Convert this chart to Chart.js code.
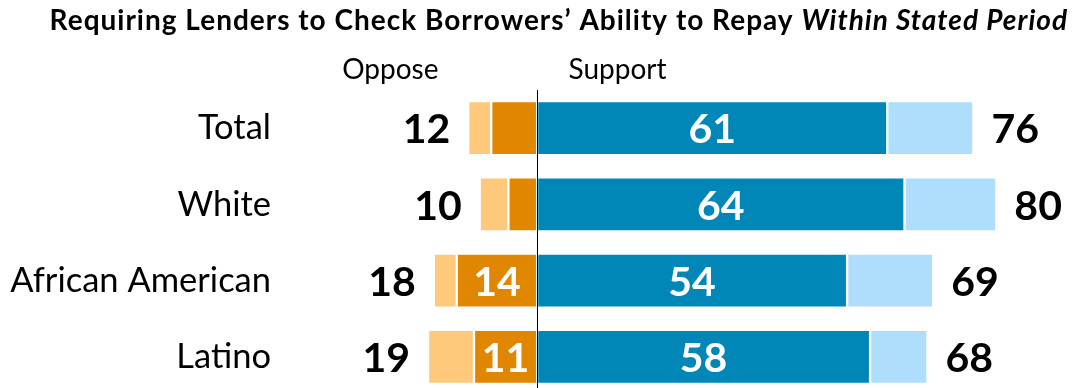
<!DOCTYPE html>
<html>
<head>
<meta charset="utf-8">
<script src="https://cdn.jsdelivr.net/npm/chart.js@4"></script>
<style>
  html, body { margin: 0; padding: 0; background: #fff; }
  #wrap { width: 1074px; height: 388px; overflow: hidden; }
</style>
</head>
<body>
<div id="wrap"><canvas id="chart_ability" width="1074" height="395"></canvas></div>
<script>
const groups = ["Total", "White", "African American", "Latino"];
const supportStrong = [61, 64, 54, 58];
const supportTotal = [76, 80, 69, 68];
const opposeStrong = [8, 5, 14, 11];
const opposeTotal = [12, 10, 18, 19];

const FONT = "Lato";

// the lighter part of each side is what remains of the total
const supportRest = supportTotal.map((t, i) => t - supportStrong[i]);
const opposeRest = opposeTotal.map((t, i) => t - opposeStrong[i]);

const barStyle = {
    borderColor: "#ffffff",
    borderWidth: 1.5,
    borderSkipped: false,
    barThickness: 54,
};

const data = {
    labels: groups,
    datasets: [
        { label: "Strongly oppose", data: opposeStrong.map(v => -v), backgroundColor: "#e08600", ...barStyle },
        { label: "Oppose", data: opposeRest.map(v => -v), backgroundColor: "#fec97a", ...barStyle },
        { label: "Strongly support", data: supportStrong, backgroundColor: "#0086b7", ...barStyle },
        { label: "Support", data: supportRest, backgroundColor: "#afdefd", ...barStyle },
    ],
};

const labelsPlugin = {
    id: "labels",
    afterDraw(chart) {
        const ctx = chart.ctx;
        const x = chart.scales.x;
        const y = chart.scales.y;
        const zero = Math.round(x.getPixelForValue(0)) + 0.5;

        ctx.save();
        // zero line
        ctx.strokeStyle = "#000";
        ctx.lineWidth = 1;
        ctx.beginPath();
        ctx.moveTo(zero, chart.chartArea.top);
        ctx.lineTo(zero, chart.canvas.height);
        ctx.stroke();

        // title, bold with an italic tail
        ctx.fillStyle = "#000";
        ctx.textBaseline = "alphabetic";
        ctx.letterSpacing = "1px";
        const t1 = "Requiring Lenders to Check Borrowers\u2019 Ability to Repay ";
        const t2 = "Within Stated Period";
        ctx.font = "bold 28px " + FONT;
        const w1 = ctx.measureText(t1).width;
        ctx.font = "italic bold 28px " + FONT;
        const w2 = ctx.measureText(t2).width;
        const tx = 1068 - w1 - w2;
        ctx.font = "bold 28px " + FONT;
        ctx.textAlign = "left";
        ctx.fillText(t1, tx, 30);
        ctx.font = "italic bold 28px " + FONT;
        ctx.fillText(t2, tx + w1, 30);
        ctx.letterSpacing = "0px";

        // side headers
        ctx.font = "28px " + FONT;
        ctx.textAlign = "right";
        ctx.fillText("Oppose", zero - 99, 79);
        ctx.textAlign = "left";
        ctx.fillText("Support", zero + 31, 79);

        ctx.textBaseline = "middle";
        groups.forEach((g, i) => {
            const cy = y.getPixelForValue(i);
            ctx.fillStyle = "#000";
            ctx.font = "34.5px " + FONT;
            ctx.textAlign = "right";
            ctx.fillText(g, 271, cy);

            ctx.font = "bold 41px " + FONT;
            ctx.textAlign = "right";
            ctx.fillText(String(opposeTotal[i]), x.getPixelForValue(-opposeTotal[i]) - 18, cy + 2);
            ctx.textAlign = "left";
            ctx.fillText(String(supportTotal[i]), x.getPixelForValue(supportTotal[i]) + 18, cy + 2);

            ctx.fillStyle = "#fff";
            ctx.textAlign = "center";
            ctx.fillText(String(supportStrong[i]), x.getPixelForValue(supportStrong[i] / 2), cy + 2);
            if (opposeStrong[i] >= 10) {
                ctx.fillText(String(opposeStrong[i]), x.getPixelForValue(-opposeStrong[i] / 2), cy + 2);
            }
        });
        ctx.restore();
    },
};

const config = {
    type: "bar",
    data: data,
    options: {
        indexAxis: "y",
        responsive: false,
        animation: false,
        layout: {
            padding: { left: 307.5, right: 3, top: 90, bottom: 0 },
        },
        plugins: {
            legend: { display: false },
            tooltip: { enabled: false },
        },
        scales: {
            x: { stacked: true, min: -40, max: 93, display: false },
            y: { stacked: true, display: false },
        },
    },
    plugins: [labelsPlugin],
};

const ctxAbility = document.getElementById("chart_ability");
const abilityChart = new Chart(ctxAbility, config);
</script>
</body>
</html>
